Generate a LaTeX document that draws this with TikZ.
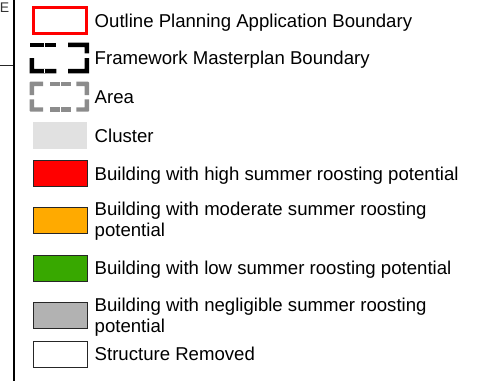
\documentclass[tikz,border=0pt]{standalone}
\usepackage{fontspec}
\setmainfont{Liberation Sans}
\definecolor{dashgrey}{HTML}{8C8C8C}
\definecolor{clustergrey}{HTML}{E1E1E1}
\definecolor{highred}{HTML}{FF0000}
\definecolor{modorange}{HTML}{FFAA00}
\definecolor{lowgreen}{HTML}{38A800}
\definecolor{negggrey}{HTML}{B2B2B2}
\begin{document}
\begin{tikzpicture}[x=1pt,y=-1pt,
  lbl/.style={anchor=base west, inner sep=0pt, font=\fontsize{18.6}{21}\selectfont, align=left, text=black},
  swatch/.style={draw=black!85, line width=1pt, minimum width=54pt, minimum height=26pt, inner sep=0pt},
  blackpiece/.style={fill=black},
  greypiece/.style={fill=dashgrey},
  sep/.style={draw=white, line width=0.6pt},
]
\useasboundingbox[fill=white] (0,0) rectangle (497,381);
% left frame remnant
\draw[line width=2pt] (14,0) -- (14,381);
\draw[line width=1pt, black!85] (0,65) -- (13,65);
\node[anchor=base east, inner sep=0pt, font=\fontsize{14}{16}\selectfont, text=black!80] (e) at (9.3,12.7) {E};

% 1 outline planning application boundary
\node[draw=highred, line width=3pt, minimum width=53pt, minimum height=25.7pt, inner sep=0pt] (s1) at (60,20.3) {};
\node[lbl] (t1) at (94.5,27) {Outline Planning Application Boundary};

% 2 framework masterplan boundary (black dashed)
\fill[blackpiece] (29.7,42.7) rectangle (56.3,47.2);
\fill[blackpiece] (68,42.7) -- (89,42.7) -- (89,53.3) -- (84.5,53.3) -- (84.5,47.2) -- (68,47.2) -- cycle;
\fill[blackpiece] (89,58) -- (89,73.3) -- (68,73.3) -- (68,68.8) -- (84.5,68.8) -- (84.5,58) -- cycle;
\fill[blackpiece] (29.7,58) -- (34.2,58) -- (34.2,68.8) -- (56.3,68.8) -- (56.3,73.3) -- (29.7,73.3) -- cycle;
\draw[sep] (44.7,42.7) -- (44.7,47.2);
\draw[sep] (44.7,68.8) -- (44.7,73.3);
\coordinate (s2) at (59.3,58);
\node[lbl] (t2) at (94.5,64.7) {Framework Masterplan Boundary};

% 3 area (grey dashed)
\fill[greypiece] (30.5,81.7) -- (43,81.7) -- (43,86) -- (34,86) -- (34,95) -- (29.7,95) -- (29.7,82.5) -- cycle;
\fill[greypiece] (49.7,81.7) rectangle (70.7,86);
\fill[greypiece] (76.3,81.7) -- (88.2,81.7) -- (89,82.5) -- (89,95) -- (84.7,95) -- (84.7,86) -- (76.3,86) -- cycle;
\fill[greypiece] (29.7,99.3) -- (34,99.3) -- (34,107.4) -- (43,107.4) -- (43,111.7) -- (30.5,111.7) -- (29.7,110.9) -- cycle;
\fill[greypiece] (49.7,107.4) rectangle (70.7,111.7);
\fill[greypiece] (84.7,99.3) -- (89,99.3) -- (89,110.9) -- (88.2,111.7) -- (76.3,111.7) -- (76.3,107.4) -- (84.7,107.4) -- cycle;
\draw[sep] (60.3,81.7) -- (60.3,86);
\draw[sep] (60.3,107.4) -- (60.3,111.7);
\coordinate (s3) at (59.3,96.7);
\node[lbl] (t3) at (94.5,103.4) {Area};

% 4 cluster
\node[fill=clustergrey, minimum width=54pt, minimum height=27pt, inner sep=0pt] (s4) at (60,135.5) {};
\node[lbl] (t4) at (94.5,142.2) {Cluster};

% 5 high
\node[swatch, fill=highred] (s5) at (60.5,173.5) {};
\node[lbl] (t5) at (94.5,180.2) {Building with high summer roosting potential};

% 6 moderate (base anchor = last line)
\node[swatch, fill=modorange] (s6) at (60.5,220.4) {};
\node[lbl] (t6) at (94.5,236) {Building with moderate summer roosting\\potential};

% 7 low
\node[swatch, fill=lowgreen] (s7) at (60.5,268) {};
\node[lbl] (t7) at (94.5,274.7) {Building with low summer roosting potential};

% 8 negligible
\node[swatch, fill=negggrey] (s8) at (60.5,315.2) {};
\node[lbl] (t8) at (94.5,332.5) {Building with negligible summer roosting\\potential};

% 9 removed
\node[swatch, fill=white] (s9) at (60.5,354) {};
\node[lbl] (t9) at (94.5,360.7) {Structure Removed};
\end{tikzpicture}
\end{document}
